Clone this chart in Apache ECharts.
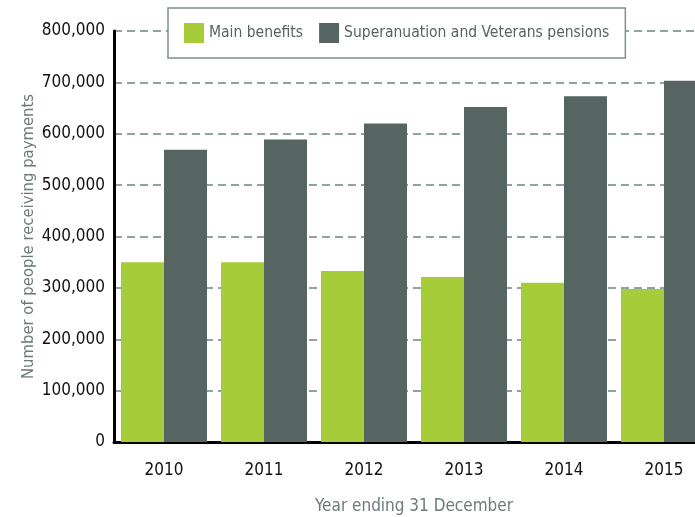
<!DOCTYPE html>
<html>
<head>
<meta charset="utf-8">
<script src="https://cdn.jsdelivr.net/npm/echarts@6/dist/echarts.min.js"></script>
<style>
  html, body { margin: 0; padding: 0; background: #fff; }
  #chart { width: 695px; height: 517px; }
</style>
</head>
<body>
<div id="chart"></div>
<script>
// categories and values
var years = ['2010', '2011', '2012', '2013', '2014', '2015'];
var mainBenefits = [350000, 350000, 333000, 321000, 310000, 298000];
var superVeterans = [569000, 589000, 620000, 652000, 673000, 703000];
var seriesNames = ['Main benefits', 'Superanuation and Veterans pensions'];

var font = '"DejaVu Sans Condensed", "Liberation Sans Narrow", sans-serif';

var chartDom = document.getElementById('chart');
var myChart = echarts.init(chartDom);
var option;

option = {
    animation: false,
    textStyle: { fontFamily: font },
    legend: {
        left: 168,
        top: 8,
        icon: 'rect',
        itemWidth: 20,
        itemHeight: 20,
        itemGap: 16,
        padding: [15, 16, 15, 16],
        borderColor: '#7f8f8d',
        borderWidth: 1.5,
        backgroundColor: '#fff',
        textStyle: { color: '#566462', fontSize: 15.5, fontFamily: font },
        data: seriesNames
    },
    grid: {
        left: 114,
        width: 600,
        top: 31,
        bottom: 75,
        outerBoundsMode: 'none'
    },
    xAxis: {
        type: 'category',
        data: years,
        name: 'Year ending 31 December',
        nameLocation: 'middle',
        nameGap: 56,
        nameMoveOverlap: false,
        nameTextStyle: { color: '#6b7b79', fontSize: 17, fontFamily: font },
        axisLine: { lineStyle: { color: '#000', width: 3 } },
        axisTick: { show: false },
        axisLabel: { color: '#111', fontSize: 17, margin: 20, fontFamily: font }
    },
    yAxis: {
        type: 'value',
        min: 0,
        max: 800000,
        interval: 100000,
        name: 'Number of people receiving payments',
        nameLocation: 'middle',
        nameGap: 77,
        nameMoveOverlap: false,
        nameTextStyle: { color: '#6b7b79', fontSize: 16.5, fontFamily: font },
        axisLine: { show: true, lineStyle: { color: '#000', width: 3 } },
        axisTick: { show: false },
        axisLabel: {
            color: '#111',
            fontSize: 17,
            margin: 9,
            fontFamily: font,
            formatter: function (v) { return v.toLocaleString('en-US'); }
        },
        splitLine: {
            lineStyle: { color: '#8fa3a0', width: 2, type: [8, 5] }
        }
    },
    series: [
        {
            name: seriesNames[0],
            type: 'bar',
            data: mainBenefits,
            barGap: 0,
            barCategoryGap: '14%',
            itemStyle: { color: '#a6cd39' }
        },
        {
            name: seriesNames[1],
            type: 'bar',
            data: superVeterans,
            barGap: 0,
            barCategoryGap: '14%',
            itemStyle: { color: '#566462' }
        }
    ]
};

option && myChart.setOption(option);
</script>
</body>
</html>
